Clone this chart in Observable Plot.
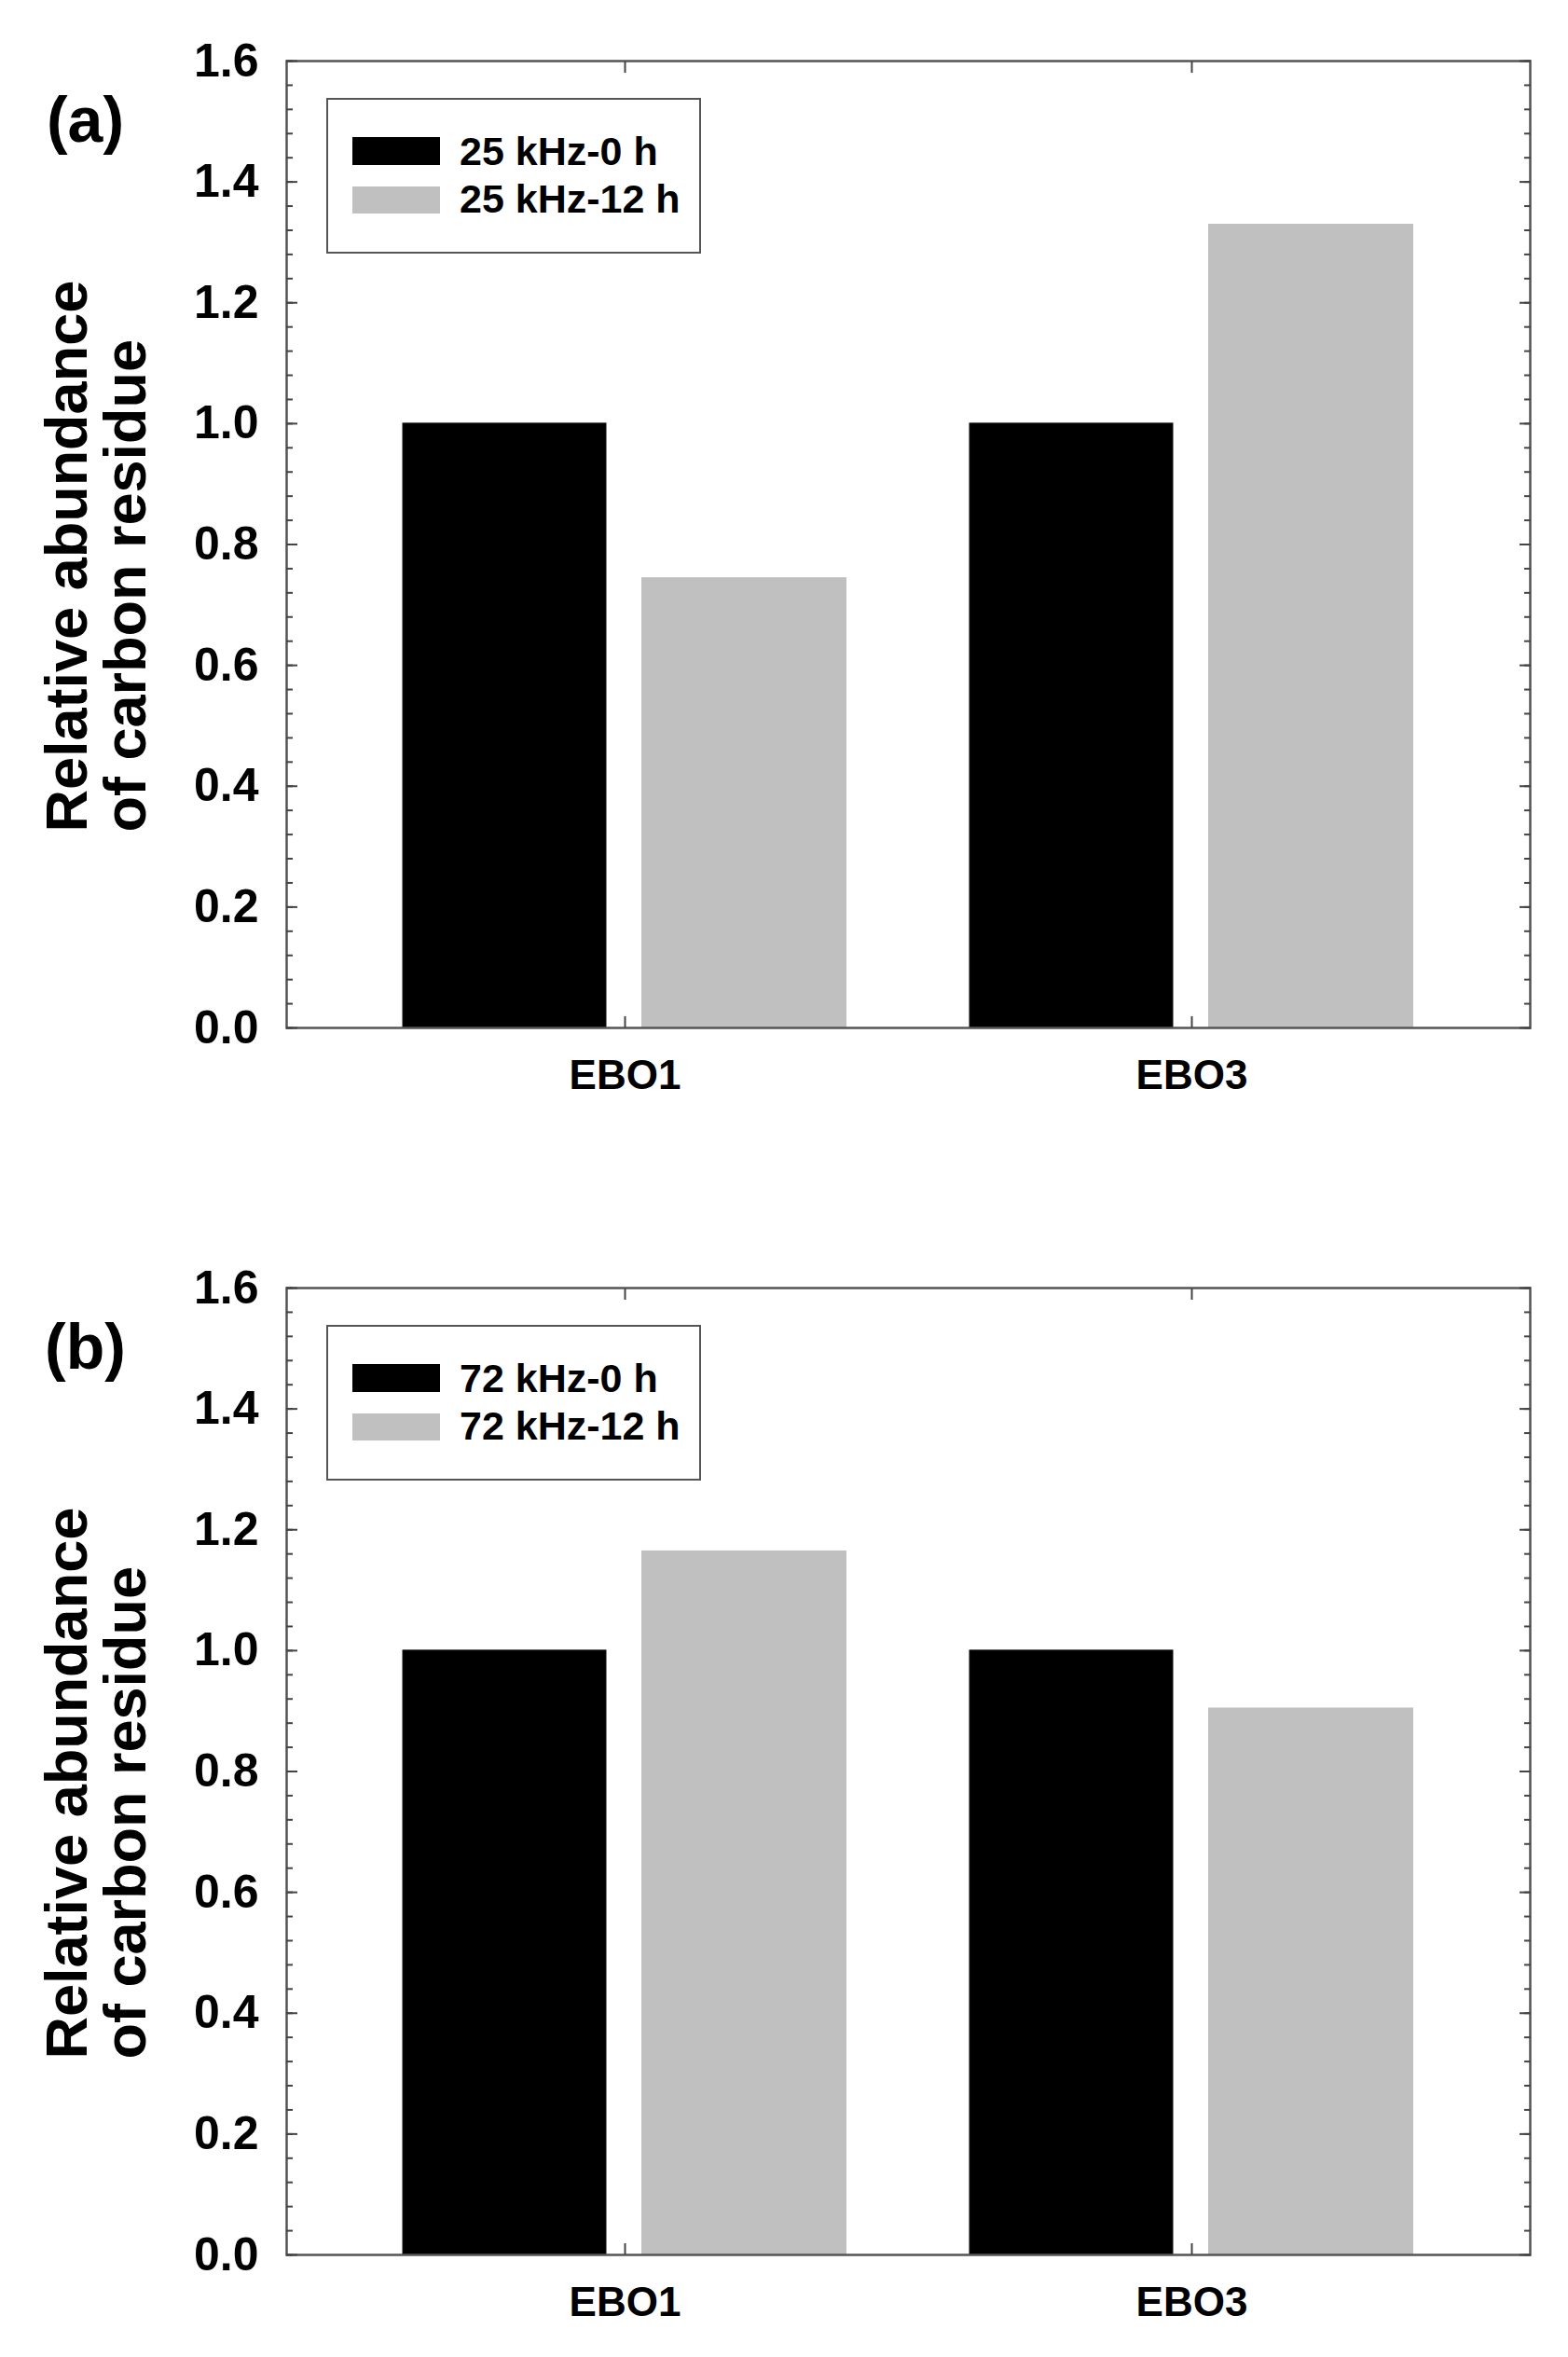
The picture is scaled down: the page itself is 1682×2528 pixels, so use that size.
<!DOCTYPE html>
<html>
<head>
<meta charset="utf-8">
<script src="https://cdn.jsdelivr.net/npm/d3@7"></script>
<script src="https://cdn.jsdelivr.net/npm/@observablehq/plot@0.6"></script>
<style>
  body { margin: 0; background: #fff; }
  #wrap { position: relative; width: 1682px; height: 2528px; overflow: hidden; background: #fff;
          font-family: "Liberation Sans", Arial, sans-serif; }
  .panel { position: absolute; left: 0; width: 1682px; height: 1211px; }
  .legend-box { position: absolute; left: 350px; top: 105px; width: 402px; height: 167px;
                border: 2.5px solid #555; box-sizing: border-box; background: #fff; }
  .swatch { position: absolute; left: 378px; width: 94px; }
  .ltext { position: absolute; left: 493px; font-size: 43px; line-height: 43px; font-weight: bold;
           color: #000; white-space: nowrap; }
  svg text { font-weight: bold; }
</style>
</head>
<body>
<div id="wrap"></div>
<script>
// ---------- data ----------
const categories = ["EBO1", "EBO3"];

const panelALabel = "(a)";
const panelASeries = ["25 kHz-0 h", "25 kHz-12 h"];
const panelA0h = [1.0, 1.0];
const panelA12h = [0.745, 1.33];

const panelBLabel = "(b)";
const panelBSeries = ["72 kHz-0 h", "72 kHz-12 h"];
const panelB0h = [1.0, 1.0];
const panelB12h = [1.165, 0.905];

const yTitle = "Relative abundance\nof carbon residue";
const yMajorTicks = [0.0, 0.2, 0.4, 0.6, 0.8, 1.0, 1.2, 1.4, 1.6];
const yMinorTicks = d3.range(0, 1.6001, 0.04);

const seriesColors = ["#000000", "#c0c0c0"];

// ---------- drawing ----------
const wrap = document.getElementById("wrap");

function drawPanel(top, label, seriesNames, vals0, vals12) {
  const panel = document.createElement("div");
  panel.className = "panel";
  panel.style.top = top + "px";
  wrap.appendChild(panel);

  const d0 = categories.map((c, i) => ({cat: c, value: vals0[i], series: seriesNames[0]}));
  const d12 = categories.map((c, i) => ({cat: c, value: vals12[i], series: seriesNames[1]}));

  const tickStroke = "#444";
  const chart = Plot.plot({
    width: 1682,
    height: 1211,
    marginTop: 65,
    marginBottom: 109,
    marginLeft: 307,
    marginRight: 41,
    style: {fontFamily: '"Liberation Sans", Arial, sans-serif', fontWeight: "bold", background: "transparent", overflow: "visible", color: "#000"},
    x: {domain: categories, paddingInner: 0.217, paddingOuter: 0.204, axis: null},
    y: {domain: [0, 1.6], axis: null},
    marks: [
      Plot.barY(d0, {x: "cat", y: "value", fill: seriesColors[0], insetRight: 258, stroke: "#111", strokeWidth: 1}),
      Plot.barY(d12, {x: "cat", y: "value", fill: seriesColors[1], insetLeft: 256}),
      Plot.frame({stroke: "#555", strokeWidth: 2.5}),
      // inward minor ticks, left & right
      Plot.axisY(yMinorTicks, {anchor: "left", tickSize: 7, dx: 7, fill: "none", stroke: tickStroke, strokeWidth: 2, label: null}),
      Plot.axisY(yMinorTicks, {anchor: "right", tickSize: 7, dx: -7, fill: "none", stroke: tickStroke, strokeWidth: 2, label: null}),
      // inward major ticks
      Plot.axisY(yMajorTicks, {anchor: "left", tickSize: 12, dx: 12, fill: "none", stroke: tickStroke, strokeWidth: 2, label: null}),
      Plot.axisY(yMajorTicks, {anchor: "right", tickSize: 12, dx: -12, fill: "none", stroke: tickStroke, strokeWidth: 2, label: null}),
      // y tick labels
      Plot.axisY(yMajorTicks, {anchor: "left", tickSize: 0, tickPadding: 30, fontSize: 50, fontWeight: "bold",
                               tickFormat: d => d.toFixed(1), label: null, fill: "#000"}),
      // x ticks top & bottom, inward
      Plot.axisX({anchor: "top", tickSize: 12, dy: 12, fill: "none", stroke: tickStroke, strokeWidth: 2, label: null}),
      Plot.axisX({anchor: "bottom", tickSize: 12, dy: -12, fill: "none", stroke: tickStroke, strokeWidth: 2, label: null}),
      // x tick labels
      Plot.axisX({anchor: "bottom", tickSize: 0, tickPadding: 34, fontSize: 44, fontWeight: "bold", label: null, fill: "#000"}),
      // y axis title
      Plot.text([yTitle], {text: d => d, frameAnchor: "bottom-left", rotate: -90, textAnchor: "start", lineAnchor: "top",
                           lineHeight: 1.0, dx: -259, dy: -210, fontSize: 63, fontWeight: "bold", fill: "#000"}),
      // panel label
      Plot.text([label], {text: d => d, frameAnchor: "top-left", dx: -216, dy: 65, textAnchor: "middle", lineAnchor: "middle",
                          fontSize: 68, fontWeight: "bold", fill: "#000"})
    ]
  });
  panel.appendChild(chart);

  // legend
  const box = document.createElement("div");
  box.className = "legend-box";
  panel.appendChild(box);
  const swTops = [147, 200];
  const swH = [30, 29];
  const txtTops = [140.5, 191.5];
  seriesNames.forEach((name, i) => {
    const sw = document.createElement("div");
    sw.className = "swatch";
    sw.style.top = swTops[i] + "px";
    sw.style.height = swH[i] + "px";
    sw.style.background = seriesColors[i];
    panel.appendChild(sw);
    const t = document.createElement("div");
    t.className = "ltext";
    t.style.top = txtTops[i] + "px";
    t.textContent = name;
    panel.appendChild(t);
  });
}

drawPanel(0, panelALabel, panelASeries, panelA0h, panelA12h);
drawPanel(1316, panelBLabel, panelBSeries, panelB0h, panelB12h);
</script>
</body>
</html>
